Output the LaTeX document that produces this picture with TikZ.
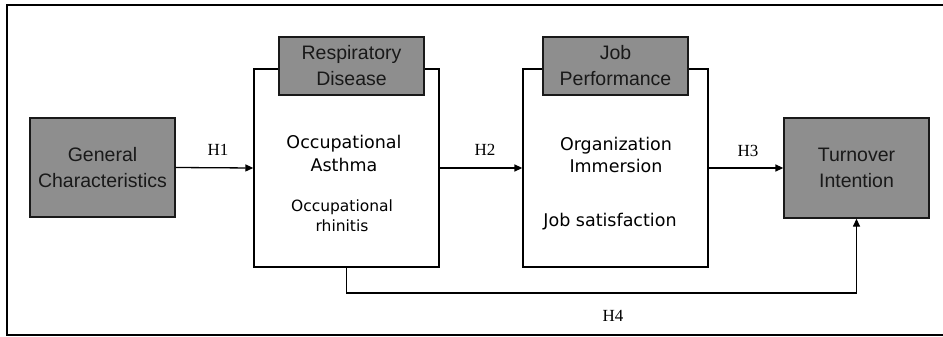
\documentclass[tikz,border=0pt]{standalone}
\usepackage{fontspec}
\setmainfont{DejaVu Sans}
\newfontfamily\hdfont{Liberation Sans}
\newfontfamily\hfont{Liberation Serif}
\usetikzlibrary{arrows.meta}
\definecolor{boxgray}{RGB}{142,142,142}
\definecolor{txtdark}{RGB}{25,25,25}
\tikzset{
  x=1pt, y=-1pt,
  frame/.style={draw=black, line width=1.2pt},
  graybox/.style={draw=black!90, line width=1.3pt, fill=boxgray, inner sep=0pt, align=center,
    text=txtdark, font=\hdfont\fontsize{19.5}{26}\selectfont},
  bigbox/.style={draw=black, line width=1.3pt, fill=white, inner sep=0pt},
  bodytxt/.style={inner sep=0pt, align=center, text=black},
  hlabel/.style={inner sep=0pt, font=\hfont\fontsize{17}{18}\selectfont, text=black},
  conn/.style={draw=black, line width=1.3pt, -{Triangle[length=8pt,width=7pt]}},
}
\begin{document}
\begin{tikzpicture}
\useasboundingbox (0,0) rectangle (943,337);
% outer frame (right side runs off the picture)
\draw[frame] (960,5) -- (7,5) -- (7,335) -- (960,335);

\node[graybox, minimum width=145pt, minimum height=99pt] (gen) at (102.5,167.5) {General\\Characteristics};
\node[bigbox, minimum width=185pt, minimum height=198pt] (resp) at (346.5,168) {};
\node[graybox, minimum width=145pt, minimum height=58pt] (resph) at (351.5,66) {Respiratory\\Disease};
\node[bigbox, minimum width=185pt, minimum height=198pt] (job) at (615.5,168) {};
\node[graybox, minimum width=145pt, minimum height=58pt] (jobh) at (615.5,66) {Job\\Performance};
\node[graybox, minimum width=145pt, minimum height=100pt] (turn) at (856.5,168) {Turnover\\Intention};

\node[bodytxt, font=\fontsize{17.5}{23}\selectfont] (asth) at (344,153) {Occupational\\Asthma};
\node[bodytxt, font=\fontsize{15.5}{20}\selectfont] (rhin) at (342,216) {Occupational\\rhinitis};
\node[bodytxt, font=\fontsize{17.5}{22}\selectfont] (org) at (616,155) {Organization\\Immersion};
\node[bodytxt, font=\fontsize{17.5}{22}\selectfont] (sat) at (610,222) {Job satisfaction};

\draw[conn] (gen.east) -- (resp.west);
\draw[conn] (resp.east) -- (job.west);
\draw[conn] (job.east) -- (turn.west);
\coordinate (c1) at (resp.south |- 0,293);
\coordinate (c2) at (turn.south |- 0,293);
\draw[conn] (resp.south) -- (c1) -- (c2) -- (turn.south);

\node[hlabel] (h1) at (218,150) {H1};
\node[hlabel] (h2) at (485,150) {H2};
\node[hlabel] (h3) at (748,151) {H3};
\node[hlabel] (h4) at (613,316) {H4};
\end{tikzpicture}
\end{document}
